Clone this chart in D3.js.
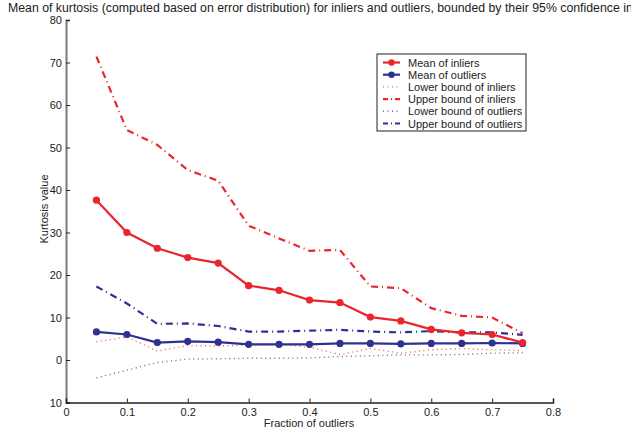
<style>
  body{ margin:0; background:#fff; }
  #vis{ display:block; }
  text{ font-family: "Liberation Sans", Arial, sans-serif; fill:#222; }
</style>
<script src="https://d3js.org/d3.v7.min.js"></script>
<svg id="vis"></svg>
<script>
  var width = 631,
    height = 430,
    red = "#e8262b",
    blue = "#2e3192";

  // data -------------------------------------------------
  var fractions = [0.05, 0.1, 0.15, 0.2, 0.25, 0.3, 0.35, 0.4, 0.45, 0.5, 0.55, 0.6, 0.65, 0.7, 0.75];
  var meanInliers = [37.6, 30.0, 26.3, 24.1, 22.8, 17.5, 16.4, 14.1, 13.5, 10.1, 9.2, 7.2, 6.4, 6.0, 4.1];
  var meanOutliers = [6.6, 6.0, 4.1, 4.4, 4.2, 3.7, 3.7, 3.7, 3.9, 3.9, 3.8, 3.9, 3.9, 4.0, 3.9];
  var lowerInliers = [4.3, 5.4, 2.1, 3.4, 3.3, 3.5, 3.7, 3.0, 1.3, 2.7, 1.6, 2.4, 2.7, 2.4, 2.2];
  var upperInliers = [71.4, 54.1, 50.6, 44.7, 42.2, 31.6, 28.6, 25.7, 25.9, 17.3, 16.9, 12.2, 10.4, 10.0, 6.3];
  var lowerOutliers = [-4.2, -2.4, -0.6, 0.2, 0.3, 0.4, 0.4, 0.5, 0.8, 1.0, 1.2, 1.2, 1.3, 1.6, 1.7];
  var upperOutliers = [17.3, 13.3, 8.5, 8.6, 8.0, 6.7, 6.7, 6.9, 7.1, 6.7, 6.5, 6.8, 6.5, 6.5, 5.9];
  var xTicks = [0, 0.1, 0.2, 0.3, 0.4, 0.5, 0.6, 0.7, 0.8];
  var yTicks = [-10, 0, 10, 20, 30, 40, 50, 60, 70, 80];

  var series = [
    {name: "Mean of inliers", values: meanInliers, color: red, width: 2.2, dash: null, marker: true},
    {name: "Mean of outliers", values: meanOutliers, color: blue, width: 2.2, dash: null, marker: true},
    {name: "Lower bound of inliers", values: lowerInliers, color: red, width: 1.4, dash: "1,3.5", marker: false, opacity: 0.75},
    {name: "Upper bound of inliers", values: upperInliers, color: red, width: 2.2, dash: "7,4,1,4", marker: false},
    {name: "Lower bound of outliers", values: lowerOutliers, color: blue, width: 1.4, dash: "1,3.5", marker: false, opacity: 0.75},
    {name: "Upper bound of outliers", values: upperOutliers, color: blue, width: 2.2, dash: "7,4,1,4", marker: false}
  ];

  // scaling
  var xscale = d3.scaleLinear().domain([0, 0.8]).range([66, 553]);
  var yscale = d3.scaleLinear().domain([-10, 80]).range([402.5, 20]);

  var svg = d3.select("#vis")
    .attr("width", width)
    .attr("height", height);

  // title (runs past the right edge, as in the original) ------------
  svg.append("text")
    .attr("x", 8)
    .attr("y", 12)
    .style("font-size", "12.3px")
    .text("Mean of kurtosis (computed based on error distribution) for inliers and outliers, bounded by their 95% confidence interval");

  // axes -------------------------------------------------
  var yAxis = d3.axisLeft(yscale)
    .tickValues(yTicks)
    .tickSize(-4)
    .tickPadding(4)
    .tickFormat(function(d){ return d < 0 ? String(-d) : String(d); });

  var xAxis = d3.axisBottom(xscale)
    .tickValues(xTicks)
    .tickSize(-4)
    .tickPadding(6)
    .tickFormat(function(d){ return d === 0 ? "0" : d3.format(".1f")(d); });

  var gy = svg.append("g")
    .attr("transform", "translate(66,0)")
    .call(yAxis);
  gy.select(".domain").attr("stroke", "#7a7a7a").attr("stroke-width", 2);

  var gx = svg.append("g")
    .attr("transform", "translate(0,402.5)")
    .call(xAxis);
  gx.select(".domain").attr("stroke", "#222").attr("stroke-width", 1.5);

  svg.selectAll(".tick text")
    .style("font-size", "11px")
    .style("font-family", "'Liberation Sans', Arial, sans-serif")
    .attr("fill", "#222");
  svg.selectAll(".tick line").attr("stroke", "#222");

  svg.append("text")
    .attr("x", 309)
    .attr("y", 427)
    .attr("text-anchor", "middle")
    .style("font-size", "11px")
    .text("Fraction of outliers");

  svg.append("text")
    .attr("transform", "translate(48,209) rotate(-90)")
    .attr("text-anchor", "middle")
    .style("font-size", "11px")
    .text("Kurtosis value");

  // lines -------------------------------------------------
  var line = d3.line()
    .x(function(d, i){ return xscale(fractions[i]); })
    .y(function(d){ return yscale(d); });

  var drawOrder = [2, 4, 3, 5, 1, 0];
  drawOrder.forEach(function(k) {
    var s = series[k];
    svg.append("path")
      .datum(s.values)
      .attr("d", line)
      .attr("fill", "none")
      .attr("stroke", s.color)
      .attr("stroke-width", s.width)
      .attr("stroke-opacity", s.opacity || 1)
      .attr("stroke-dasharray", s.dash);
    if (s.marker) {
      svg.append("g").selectAll("circle")
        .data(s.values)
        .enter().append("circle")
        .attr("cx", function(d, i){ return xscale(fractions[i]); })
        .attr("cy", function(d){ return yscale(d); })
        .attr("r", 3.6)
        .attr("fill", s.color);
    }
  });

  // legend -------------------------------------------------
  var legend = svg.append("g").attr("transform", "translate(377,54)");
  legend.append("rect")
    .attr("width", 149)
    .attr("height", 77)
    .attr("fill", "#fff")
    .attr("stroke", "#222")
    .attr("stroke-width", 1);

  var items = legend.selectAll("g.item")
    .data(series)
    .enter().append("g")
    .attr("class", "item")
    .attr("transform", function(d, i){ return "translate(0," + (8.5 + i * 12.2) + ")"; });

  items.append("line")
    .attr("x1", 6).attr("x2", 23)
    .attr("stroke", function(d){ return d.color; })
    .attr("stroke-width", function(d){ return d.width; })
    .attr("stroke-opacity", function(d){ return d.opacity || 1; })
    .attr("stroke-dasharray", function(d){ return d.dash ? (d.width < 2 ? "1,3.5" : "5,3,1,3") : null; });

  items.filter(function(d){ return d.marker; })
    .append("circle")
    .attr("cx", 14.5)
    .attr("r", 3.2)
    .attr("fill", function(d){ return d.color; });

  items.append("text")
    .attr("x", 31)
    .attr("y", 4)
    .style("font-size", "11px")
    .text(function(d){ return d.name; });
</script>
